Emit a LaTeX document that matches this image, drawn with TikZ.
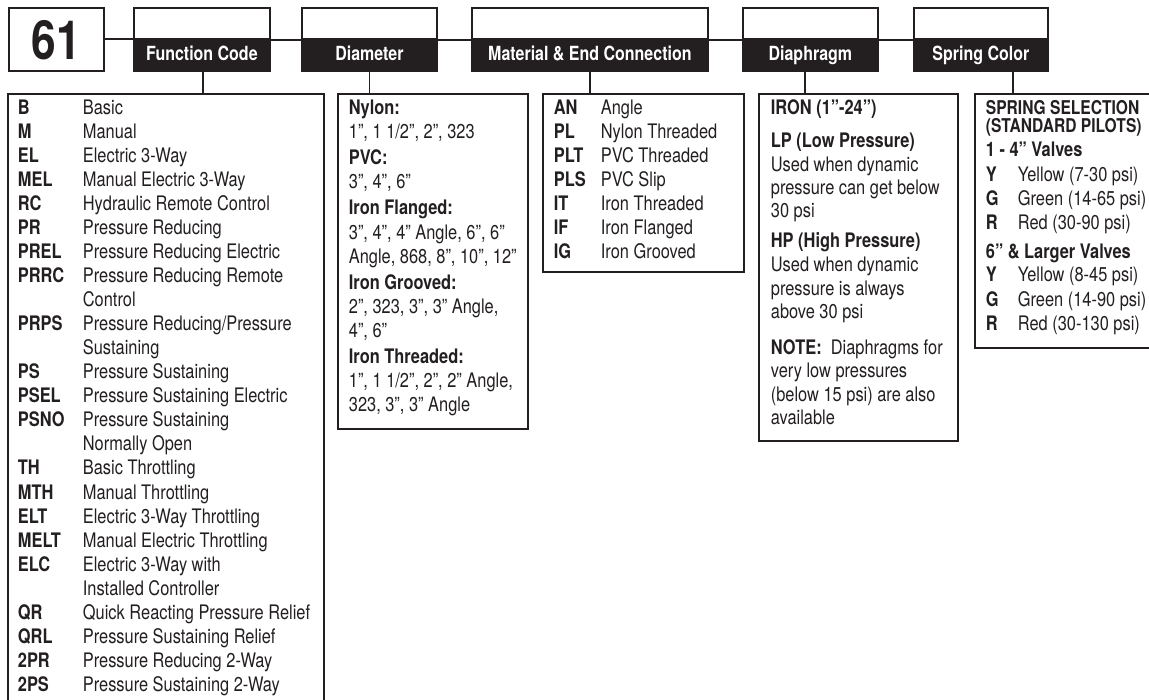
\documentclass[tikz,border=0pt]{standalone}
\usepackage{fontspec}
\IfFontExistsTF{Liberation Sans Narrow}{\setmainfont{Liberation Sans Narrow}}{\setmainfont{TeX Gyre Heros}[FakeStretch=0.82]}
\definecolor{ink}{HTML}{231F20}
\begin{document}
\begin{tikzpicture}[x=1pt,y=-1pt,line width=1.8pt,
  frame/.style={draw=ink,anchor=north west,inner sep=0pt,minimum width=#1},
  hdrtop/.style={draw=ink,fill=white,anchor=north west,inner sep=0pt,minimum width=#1,minimum height=31},
  hdrband/.style={draw=ink,fill=ink,anchor=north west,inner sep=0pt,minimum width=#1,minimum height=32,
    text=white,font=\fontsize{19.5}{19.5}\selectfont\bfseries,text height=10.5pt,text depth=0pt},
  body/.style={anchor=base west,inner sep=0pt,text=ink,font=\fontsize{20}{24}\selectfont},
  bcode/.style={anchor=base west,inner sep=0pt,text=ink,font=\fontsize{20}{24}\selectfont\bfseries},
  link/.style={draw=ink,line width=1.8pt}]
\useasboundingbox (0,0) rectangle (1149,700);

% big code box
\node[draw=ink,anchor=north west,inner sep=0pt,minimum width=95,minimum height=63,
  font=\fontsize{54}{54}\selectfont\bfseries,text=ink,text height=40pt,text depth=0pt] (n61) at (8,7) {61};

% header boxes
\node[hdrtop=136] (fctop) at (133,7) {};
\node[hdrband=136] (fcband) at (133,38) {Function Code};
\node[hdrtop=135] (dmtop) at (301,7) {};
\node[hdrband=135] (dmband) at (301,38) {Diameter};
\node[hdrtop=236] (mttop) at (471,7) {};
\node[hdrband=236] (mtband) at (471,38) {Material \& End Connection};
\node[hdrtop=135] (dptop) at (742,7) {};
\node[hdrband=135] (dpband) at (742,38) {Diaphragm};
\node[hdrtop=134] (sptop) at (913,7) {};
\node[hdrband=134] (spband) at (913,38) {Spring Color};

% list boxes
\node[frame=316,minimum height=607] (fcbox) at (7,93) {};
\node[frame=190,minimum height=335] (dmbox) at (337,93) {};
\node[frame=201,minimum height=178] (mtbox) at (542,93) {};
\node[frame=199,minimum height=347] (dpbox) at (758,93) {};
\node[frame=190,minimum height=254] (spbox) at (974,93) {};

% connectors between headers
\draw[link] (n61.east) -- (n61.east -| fctop.west);
\draw[link] (fctop.south east) -- (dmtop.south west);
\draw[link] (dmtop.south east) -- (mttop.south west);
\draw[link] (mttop.south east) -- (dptop.south west);
\draw[link] (dptop.south east) -- (sptop.south west);

% connectors down to the lists
\draw[link] ([xshift=1pt]fcband.south) -- ([xshift=1pt]fcband.south |- fcbox.north);
\draw[link] (dmband.south) -- (dmband.south |- dmbox.north);
\draw[link] (mtband.south) -- (mtband.south |- mtbox.north);
\draw[link] ([xshift=-5.5pt]dpband.south) -- ([xshift=-5.5pt]dpband.south |- dpbox.north);
\draw[link] ([xshift=32pt]spband.south) -- ([xshift=32pt]spband.south |- spbox.north);

% function codes
\foreach \c/\d [count=\i] in {B/Basic, M/Manual, EL/Electric 3-Way, MEL/Manual Electric 3-Way,
  RC/Hydraulic Remote Control, PR/Pressure Reducing, PREL/Pressure Reducing Electric,
  PRRC/Pressure Reducing Remote, /Control, PRPS/{Pressure Reducing/Pressure}, /Sustaining,
  PS/Pressure Sustaining, PSEL/Pressure Sustaining Electric, PSNO/Pressure Sustaining,
  /Normally Open, TH/Basic Throttling, MTH/Manual Throttling, ELT/Electric 3-Way Throttling,
  MELT/Manual Electric Throttling, ELC/Electric 3-Way with, /Installed Controller,
  QR/Quick Reacting Pressure Relief, QRL/Pressure Sustaining Relief,
  2PR/Pressure Reducing 2-Way, 2PS/Pressure Sustaining 2-Way} {
  \node[bcode] (fcc\i) at (17,{115+24*(\i-1)}) {\c};
  \node[body] (fcd\i) at (82,{115+24*(\i-1)}) {\d};
}

% diameter
\node[bcode] (dm1) at (348,115) {Nylon:};
\node[body] (dm2) at (348,139) {1”, 1 1/2”, 2”, 323};
\node[bcode] (dm3) at (348,165) {PVC:};
\node[body] (dm4) at (348,189) {3”, 4”, 6”};
\node[bcode] (dm5) at (348,215) {Iron Flanged:};
\node[body] (dm6) at (348,240) {3”, 4”, 4” Angle, 6”, 6”};
\node[body] (dm7) at (348,264) {Angle, 868, 8”, 10”, 12”};
\node[bcode] (dm8) at (348,290) {Iron Grooved:};
\node[body] (dm9) at (348,314) {2”, 323, 3”, 3” Angle,};
\node[body] (dm10) at (348,338) {4”, 6”};
\node[bcode] (dm11) at (348,364) {Iron Threaded:};
\node[body] (dm12) at (348,388) {1”, 1 1/2”, 2”, 2” Angle,};
\node[body] (dm13) at (348,412) {323, 3”, 3” Angle};

% material
\foreach \c/\d [count=\i] in {AN/Angle, PL/Nylon Threaded, PLT/PVC Threaded, PLS/PVC Slip,
  IT/Iron Threaded, IF/Iron Flanged, IG/Iron Grooved} {
  \node[bcode] (mtc\i) at (553,{115+24*(\i-1)}) {\c};
  \node[body] (mtd\i) at (600,{115+24*(\i-1)}) {\d};
}

% diaphragm
\node[bcode] (dp1) at (770,115) {IRON (1”-24”)};
\node[bcode] (dp2) at (770,148) {LP (Low Pressure)};
\node[body] (dp3) at (770,172) {Used when dynamic};
\node[body] (dp4) at (770,195) {pressure can get below};
\node[body] (dp5) at (770,218) {30 psi};
\node[bcode] (dp6) at (770,248) {HP (High Pressure)};
\node[body] (dp7) at (770,272) {Used when dynamic};
\node[body] (dp8) at (770,296) {pressure is always};
\node[body] (dp9) at (770,319) {above 30 psi};
\node[body] (dp10) at (770,355) {\textbf{NOTE:}\ \ Diaphragms for};
\node[body] (dp11) at (770,378) {very low pressures};
\node[body] (dp12) at (770,402) {(below 15 psi) are also};
\node[body] (dp13) at (770,425) {available};

% spring
\node[bcode,font=\fontsize{19}{24}\selectfont\bfseries] (sp1) at (985,115) {SPRING SELECTION};
\node[bcode,font=\fontsize{19}{24}\selectfont\bfseries] (sp2) at (985,133) {(STANDARD PILOTS)};
\node[bcode] (sp3) at (985,157) {1 - 4” Valves};
\node[bcode] (sp4) at (985,259) {6” \& Larger Valves};
\foreach \c/\d/\y [count=\i] in {Y/Yellow (7-30 psi)/182, G/Green (14-65 psi)/206, R/Red (30-90 psi)/230,
  Y/Yellow (8-45 psi)/282, G/Green (14-90 psi)/307, R/Red (30-130 psi)/331} {
  \node[bcode] (spc\i) at (985,\y) {\c};
  \node[body] (spd\i) at (1017,\y) {\d};
}
\end{tikzpicture}
\end{document}
